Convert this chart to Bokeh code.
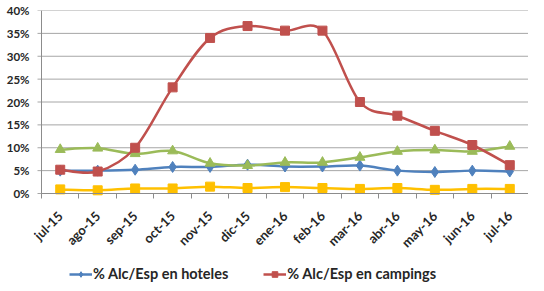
import math
from bokeh.plotting import figure
from bokeh.models import (Range1d, FixedTicker, Legend, LegendItem)
from bokeh.embed import file_html
from bokeh.resources import INLINE

months = ["jul-15", "ago-15", "sep-15", "oct-15", "nov-15", "dic-15", "ene-16",
          "feb-16", "mar-16", "abr-16", "may-16", "jun-16", "jul-16"]
hoteles = [5.0, 5.0, 5.2, 5.8, 5.8, 6.3, 5.9, 5.9, 6.1, 5.0, 4.7, 5.0, 4.8]
campings = [5.2, 4.8, 10.0, 23.2, 34.0, 36.6, 35.6, 35.6, 20.0, 17.0, 13.7, 10.6, 6.2]
serie3 = [9.6, 9.9, 8.7, 9.3, 6.6, 6.1, 6.8, 6.8, 7.9, 9.2, 9.5, 9.2, 10.3]
serie4 = [0.9, 0.7, 1.1, 1.1, 1.5, 1.2, 1.4, 1.2, 1.0, 1.2, 0.8, 1.0, 1.0]
y_ticks = [0, 5, 10, 15, 20, 25, 30, 35, 40]

FONT = "Lato"
n = len(months)
xs = [i + 0.5 for i in range(n)]

# frame geometry: the frame extends below 0% (for labels + legend) and a little
# to the left of the y axis line (so the first rotated label is not clipped)
PLOT_W = 487                       # pixels between first and last category edge
PLOT_H = 183                       # pixels between 0% and 40%
LEFT_PAD = 8                       # pixels of frame left of the y axis line
TICK = 4                           # y tick length in pixels
FRAME_H = 275
y_low = y_ticks[-1] - FRAME_H * y_ticks[-1] / PLOT_H
x_low = -LEFT_PAD * n / PLOT_W
x_tick = -TICK * n / PLOT_W

p = figure(frame_width=PLOT_W + LEFT_PAD, frame_height=FRAME_H,
           output_backend="svg", toolbar_location=None,
           x_range=Range1d(x_low, n), y_range=Range1d(y_low, y_ticks[-1]),
           min_border_left=33, min_border_right=0, min_border_top=10, min_border_bottom=0)
p.outline_line_color = None
p.xgrid.visible = False
p.ygrid.visible = False

# horizontal gridlines (with their tick stubs) limited to the plot area
k = len(y_ticks)
p.segment(x0=[x_tick] * k, x1=[n] * k, y0=y_ticks, y1=y_ticks,
          line_color="#a6a6a6", line_width=1)
# y axis line
p.segment(x0=[0], x1=[0], y0=[y_ticks[0]], y1=[y_ticks[-1]],
          line_color="#8c8c8c", line_width=1)

# y axis: labels only (line and ticks drawn above)
p.yaxis.ticker = FixedTicker(ticks=y_ticks)
p.yaxis.bounds = (y_ticks[0], y_ticks[-1])
p.yaxis.major_label_overrides = {t: f"{t}%" for t in y_ticks}
p.yaxis.axis_line_color = None
p.yaxis.major_tick_line_color = None
p.yaxis.major_tick_out = 0
p.yaxis.major_tick_in = 0
p.yaxis.minor_tick_line_color = None
p.yaxis.major_label_standoff = 4
p.yaxis.major_label_text_font = FONT
p.yaxis.major_label_text_font_style = "bold"
p.yaxis.major_label_text_font_size = "11.5px"
p.yaxis.major_label_text_color = "#262626"

# x axis
p.xaxis.fixed_location = 0
p.xaxis.bounds = (0, n)
p.xaxis.ticker = FixedTicker(ticks=xs, minor_ticks=list(range(n + 1)))
p.xaxis.major_label_overrides = {x: m for x, m in zip(xs, months)}
p.xaxis.axis_line_color = "#8c8c8c"
p.xaxis.major_tick_line_color = None
p.xaxis.major_tick_out = 0
p.xaxis.major_tick_in = 0
p.xaxis.minor_tick_line_color = "#8c8c8c"
p.xaxis.minor_tick_out = 5
p.xaxis.minor_tick_in = 0
p.xaxis.major_label_orientation = math.pi / 4
p.xaxis.major_label_standoff = 15
p.xaxis.major_label_text_font = FONT
p.xaxis.major_label_text_font_style = "bold"
p.xaxis.major_label_text_font_size = "13px"
p.xaxis.major_label_text_color = "#262626"


def smooth(ys):
    # Catmull-Rom style bezier control points (Excel "smoothed line")
    m = len(ys)
    x0, y0, x1, y1, cx0, cy0, cx1, cy1 = [], [], [], [], [], [], [], []
    for i in range(m - 1):
        im1 = max(i - 1, 0)
        ip2 = min(i + 2, m - 1)
        x0.append(xs[i]); y0.append(ys[i])
        x1.append(xs[i + 1]); y1.append(ys[i + 1])
        cx0.append(xs[i] + (xs[i + 1] - xs[im1]) / 6)
        cy0.append(ys[i] + (ys[i + 1] - ys[im1]) / 6)
        cx1.append(xs[i + 1] - (xs[ip2] - xs[i]) / 6)
        cy1.append(ys[i + 1] - (ys[ip2] - ys[i]) / 6)
    return dict(x0=x0, y0=y0, x1=x1, y1=y1, cx0=cx0, cy0=cy0, cx1=cx1, cy1=cy1)


series = [
    (hoteles, "#4F81BD", "diamond", 11, "% Alc/Esp en hoteles"),
    (campings, "#C0504D", "square", 9, "% Alc/Esp en campings"),
    (serie3, "#9BBB59", "triangle", 10, None),
    (serie4, "#FFC000", "square", 9, None),
]

# draw order: yellow, blue, green, red (red on top)
renderers = {}
for ys, color, marker, size, label in [series[3], series[0], series[2], series[1]]:
    b = p.bezier(line_color=color, line_width=2.5, **smooth(ys))
    s = p.scatter(xs, ys, marker=marker, size=size, fill_color=color, line_color=color)
    renderers[label] = (b, s)

items = [LegendItem(label=series[0][4], renderers=list(renderers[series[0][4]])),
         LegendItem(label=series[1][4], renderers=list(renderers[series[1][4]]))]
legend = Legend(items=items, orientation="horizontal", location=(LEFT_PAD + 28, 3),
                border_line_color=None, background_fill_alpha=0,
                padding=0, margin=0, spacing=35, glyph_width=23, glyph_height=14,
                label_standoff=1, label_text_font=FONT, label_text_font_style="bold",
                label_text_font_size="14.5px", label_text_color="#262626")
p.add_layout(legend, "center")

open("out.html", "w").write(file_html(p, INLINE))
